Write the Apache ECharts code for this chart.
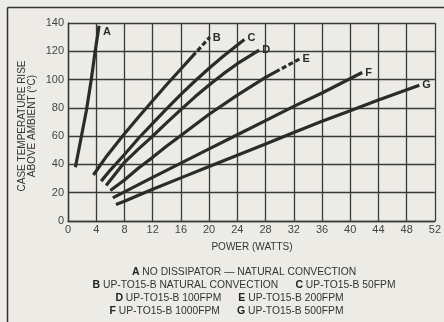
<!DOCTYPE html>
<html>
<head>
<meta charset="utf-8">
<script src="https://cdn.jsdelivr.net/npm/echarts@6/dist/echarts.min.js"></script>
<style>
  html, body { margin: 0; padding: 0; background: #ecebe6; }
  #chart { width: 444px; height: 322px; }
</style>
</head>
<body>
<div id="chart"></div>
<script>
// Case temperature rise (°C) versus power (W) for the UP-TO15-B dissipator
const xMin = 0, xMax = 52, xStep = 4;
const yMin = 0, yMax = 140, yStep = 20;

const curveA = [[1.05,38],[2.6,78],[3.3,100],[3.85,120],[4.4,138]];
const curveB = [[3.6,32.5],[5.5,46],[7.8,60.5],[10,73.5],[12,85],[14,96.5],[16,107.5],[18.1,119]];
const tailB  = [[18.1,119],[20.1,130]];
const curveC = [[4.7,28.2],[6,36],[8,47],[10,58.5],[12,69],[14,79.5],[16,89.5],[18,99],[20,108],[22,116.5],[25,128.4]];
const curveD = [[5.4,25.1],[6.5,32],[8,41.5],[10,51],[12,60],[14,69.5],[16,78.8],[18,87.8],[20,96.2],[22,104],[24,111.2],[27.1,120.8]];
const curveE = [[6,21.6],[8,29],[10,37.5],[12,45],[14,53],[16,60.5],[20,75.5],[24,89],[28,101.5],[30,107]];
const tailE  = [[30,107],[32.8,114.5]];
const curveF = [[6.35,16.4],[8,20.6],[12,30.8],[16,40.9],[20,51],[24,61],[28,71],[32,81],[36,90.5],[41.7,105]];
const curveG = [[6.8,11.6],[8,14],[12,22.5],[16,30.5],[20,38.5],[24,46.5],[28,54.5],[32,62.5],[36,70.5],[40,78],[44,85.5],[49.8,96]];

const legendLines = [
  [['A', 'NO DISSIPATOR — NATURAL CONVECTION']],
  [['B', 'UP-TO15-B NATURAL CONVECTION'], ['C', 'UP-TO15-B 50FPM']],
  [['D', 'UP-TO15-B 100FPM'], ['E', 'UP-TO15-B 200FPM']],
  [['F', 'UP-TO15-B 1000FPM'], ['G', 'UP-TO15-B 500FPM']]
];

const ink = '#2b2b2b';
const font = "'Liberation Sans', Arial, sans-serif";

function curve(data, letter, opts) {
  opts = opts || {};
  return {
    type: 'line',
    data: data,
    symbol: 'none',
    smooth: false,
    z: 5,
    lineStyle: Object.assign({ color: ink, width: 3.2, join: 'round' }, opts.line || {}),
    endLabel: letter ? {
      show: true,
      formatter: letter,
      distance: 3,
      offset: opts.offset || [0, 0],
      color: ink,
      fontFamily: font,
      fontWeight: 'bold',
      fontSize: 11
    } : { show: false },
    silent: true
  };
}

const dashed = { type: [5, 2.5], dashOffset: 5 };

const chart = echarts.init(document.getElementById('chart'), null, { renderer: 'canvas' });

const legendGraphics = legendLines.map(function (line, i) {
  const centers = [244, 244, 229.5, 226.5];
  const ys = [272, 285, 298, 311];
  const text = line.map(function (p) { return '{b|' + p[0] + '} ' + p[1]; }).join('      ');
  return {
    type: 'text',
    x: centers[i],
    y: ys[i],
    style: {
      text: text,
      align: 'center',
      verticalAlign: 'middle',
      font: '10.3px ' + font,
      fill: '#333',
      rich: { b: { fontWeight: 'bold', fontSize: 10.5, fontFamily: font, fill: '#222' } }
    }
  };
});

chart.setOption({
  animation: false,
  backgroundColor: '#ecebe6',
  grid: { left: 68, right: 8, top: 23, bottom: 101, show: false },
  xAxis: {
    type: 'value',
    min: xMin, max: xMax, interval: xStep,
    axisLine: { show: true, lineStyle: { color: '#3a3a3a', width: 1.4 } },
    axisTick: { show: false },
    splitLine: { show: true, lineStyle: { color: '#3a3a3a', width: 1.3 } },
    axisLabel: { color: '#444', fontFamily: font, fontSize: 11, margin: 3 }
  },
  yAxis: {
    type: 'value',
    min: yMin, max: yMax, interval: yStep,
    axisLine: { show: true, lineStyle: { color: '#3a3a3a', width: 1.4 } },
    axisTick: { show: false },
    splitLine: { show: true, lineStyle: { color: '#3a3a3a', width: 1.3 } },
    axisLabel: { color: '#444', fontFamily: font, fontSize: 11, margin: 4 }
  },
  series: [
    curve(curveA, 'A', { offset: [1, 6] }),
    curve(curveB, null),
    curve(tailB, 'B', { line: dashed, offset: [0, 1] }),
    curve(curveC, 'C', { offset: [0, -1] }),
    curve(curveD, 'D'),
    curve(curveE, null),
    curve(tailE, 'E', { line: dashed }),
    curve(curveF, 'F'),
    curve(curveG, 'G')
  ],
  graphic: [
    // page frame
    { type: 'line', shape: { x1: 7.5, y1: 7.5, x2: 444, y2: 7.5 }, style: { stroke: '#333', lineWidth: 1.5 } },
    { type: 'line', shape: { x1: 7.5, y1: 7.5, x2: 7.5, y2: 322 }, style: { stroke: '#333', lineWidth: 1.5 } },
    // axis titles
    {
      type: 'text', x: 27, y: 126, rotation: Math.PI / 2,
      style: {
        text: 'CASE TEMPERATURE RISE\nABOVE AMBIENT (°C)',
        align: 'center', verticalAlign: 'middle',
        font: '10px ' + font, lineHeight: 10.5, fill: '#333'
      }
    },
    {
      type: 'text', x: 252, y: 247,
      style: { text: 'POWER (WATTS)', align: 'center', verticalAlign: 'middle', font: '10px ' + font, fill: '#333' }
    }
  ].concat(legendGraphics)
});
</script>
</body>
</html>
